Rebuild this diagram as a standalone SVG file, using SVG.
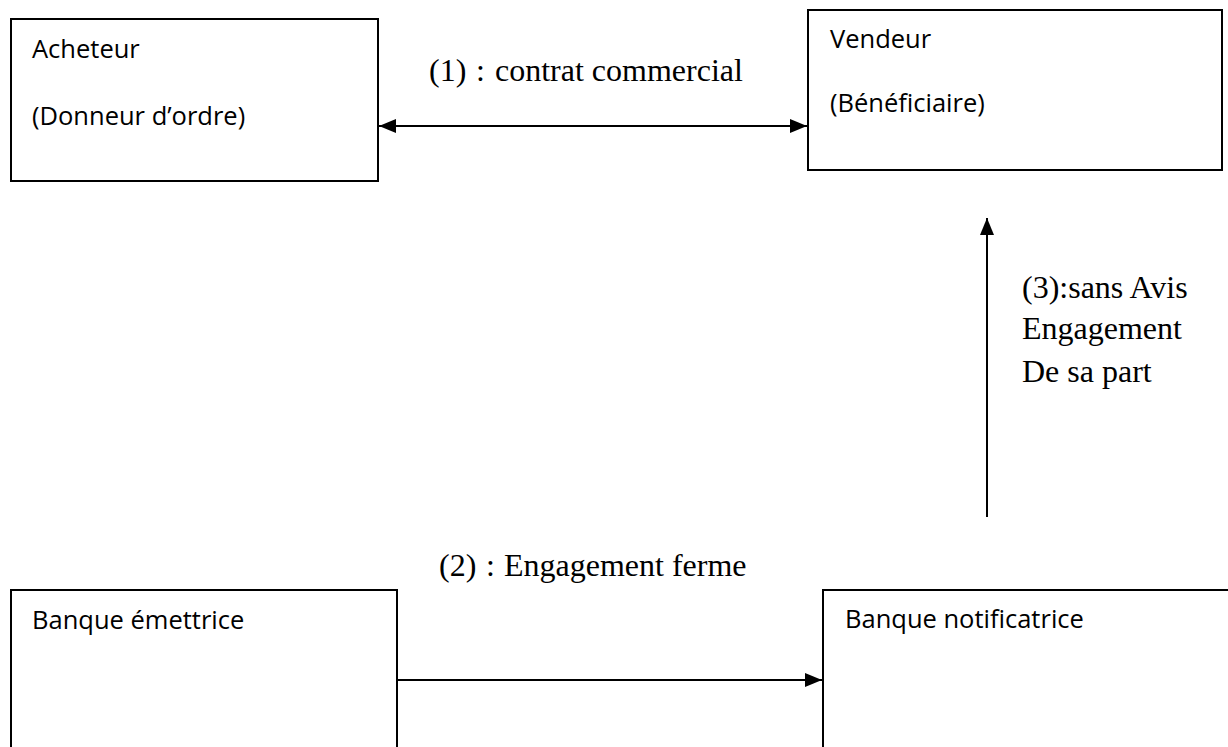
<svg xmlns="http://www.w3.org/2000/svg" width="1228" height="747" viewBox="0 0 1228 747">
<style>
.box{fill:#fff;stroke:#000;stroke-width:2}
.sans{font-family:"Open Sans","Liberation Sans",sans-serif;font-size:25.5px;fill:#000}
.serif{font-family:"Liberation Serif","Times New Roman",serif;font-size:32px;fill:#000}
.conn{stroke:#000;stroke-width:2;fill:none}
</style>
<defs>
<marker id="ah" viewBox="0 0 17 14" refX="17" refY="7" markerWidth="17" markerHeight="14" markerUnits="userSpaceOnUse" orient="auto-start-reverse">
<path d="M0,0 L17,7 L0,14 Z" fill="#000"/>
</marker>
</defs>
<rect width="1228" height="747" fill="#fff"/>
<g id="acheteur">
<rect class="box" x="11" y="19" width="367" height="162"/>
<text class="sans" x="32" y="58">Acheteur</text>
<text class="sans" x="32" y="125">(Donneur d’ordre)</text>
</g>
<g id="vendeur">
<rect class="box" x="808" y="10" width="414" height="160"/>
<text class="sans" x="830" y="48">Vendeur</text>
<text class="sans" x="830" y="112">(Bénéficiaire)</text>
</g>
<g id="banque-emettrice">
<rect class="box" x="11" y="590" width="386" height="170"/>
<text class="sans" x="32" y="629">Banque émettrice</text>
</g>
<g id="banque-notificatrice">
<rect class="box" x="823" y="590" width="420" height="170"/>
<text class="sans" x="845" y="628">Banque notificatrice</text>
</g>
<g id="connectors">
<line class="conn" x1="379" y1="126" x2="807" y2="126" marker-start="url(#ah)" marker-end="url(#ah)"/>
<line class="conn" x1="396" y1="680" x2="822" y2="680" marker-end="url(#ah)"/>
<line class="conn" x1="987" y1="517" x2="987" y2="218" marker-end="url(#ah)"/>
</g>
<g id="labels">
<text class="serif" x="429" y="81">(1)<tspan x="476">:</tspan><tspan x="495">contrat commercial</tspan></text>
<text class="serif" x="439" y="576">(2)<tspan x="486">:</tspan><tspan x="504">Engagement ferme</tspan></text>
<text class="serif" x="1022" y="298">(3):sans Avis</text>
<text class="serif" x="1022" y="339">Engagement</text>
<text class="serif" x="1022" y="382">De sa part</text>
</g>
</svg>
